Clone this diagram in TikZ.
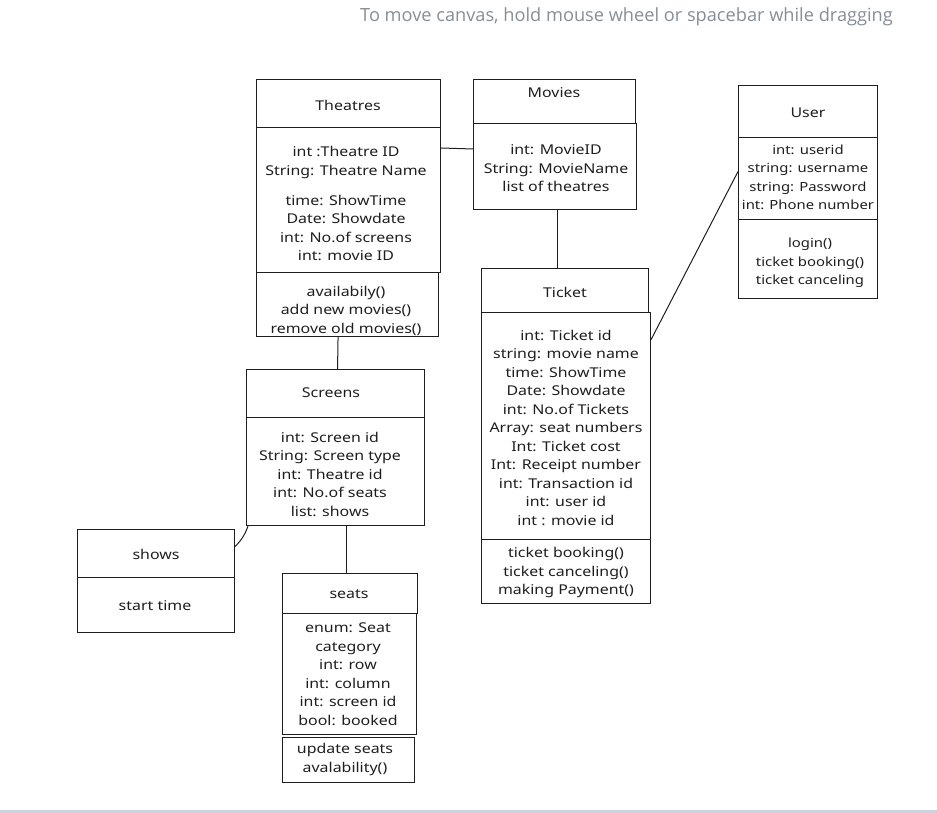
\documentclass[tikz,border=0pt]{standalone}
\usepackage{fontspec}
\setmainfont[FakeStretch=1.18]{Noto Sans}
\newfontfamily\hintfont{Open Sans}
\definecolor{ink}{HTML}{1E1E1E}
\definecolor{hint}{HTML}{868E96}
\definecolor{rule}{HTML}{C8D2E2}
\begin{document}
\begin{tikzpicture}[x=1pt,y=-1pt,
  box/.style={draw=ink,line width=1.1pt,inner sep=0pt,anchor=north west},
  txt/.style={text=ink,align=center,inner sep=0pt,font=\fontsize{13.5}{18.5}\selectfont},
  small/.style={font=\fontsize{12.6}{18.5}\selectfont},
  link/.style={draw=ink,line width=1pt}]
\useasboundingbox (0,0) rectangle (937,813);

% hint line at the top and the ruler at the bottom
\node[text=hint,anchor=east,inner sep=0pt,font=\hintfont\fontsize{18.2}{20}\selectfont] (hintline) at (893,17)
  {To move canvas, hold mouse wheel or spacebar while dragging};
\fill[rule] (0,809.5) rectangle (937,813);

% Theatres
\node[box,minimum width=184,minimum height=48] (th-h) at (256,79) {};
\node[box,minimum width=184,minimum height=145] (th-b) at (256,127) {};
\node[box,minimum width=182,minimum height=64] (th-m) at (256,272) {};
\node[txt] (th-t) at (348,105) {Theatres};
\node[txt] (th-a) at (346,203.5) {int :Theatre ID\\String: Theatre Name\\[11.5pt]time: ShowTime\\Date: Showdate\\int: No.of screens\\int: movie ID};
\node[txt] (th-o) at (346,310.5) {availabily()\\add new movies()\\remove old movies()};

% Movies
\node[box,minimum width=162,minimum height=44] (mv-h) at (473,79) {};
\node[box,minimum width=163,minimum height=86] (mv-b) at (473,123) {};
\node[txt] (mv-t) at (554,93) {Movies};
\node[txt] (mv-a) at (556,168.5) {int: MovieID\\String: MovieName\\list of theatres};

% User
\node[box,minimum width=139,minimum height=52] (us-h) at (738,85) {};
\node[box,minimum width=139,minimum height=82] (us-b) at (738,137) {};
\node[box,minimum width=139,minimum height=79] (us-m) at (738,219) {};
\node[txt] (us-t) at (808,113) {User};
\node[txt,small] (us-a) at (808,177.5) {int: userid\\string: username\\string: Password\\int: Phone number};
\node[txt,small] (us-o) at (810,263) {login()\\ticket booking()\\ticket canceling};

% Ticket
\node[box,minimum width=167,minimum height=44] (tk-h) at (481,268) {};
\node[box,minimum width=169,minimum height=227] (tk-b) at (481,312) {};
\node[box,minimum width=169,minimum height=64] (tk-m) at (481,539) {};
\node[txt] (tk-t) at (565,292) {Ticket};
\node[txt] (tk-a) at (566,427.5) {int: Ticket id\\string: movie name\\time: ShowTime\\Date: Showdate\\int: No.of Tickets\\Array: seat numbers\\Int: Ticket cost\\Int: Receipt number\\int: Transaction id\\int: user id\\int : movie id};
\node[txt] (tk-o) at (566,572.5) {ticket booking()\\ticket canceling()\\making Payment()};

% Screens
\node[box,minimum width=178,minimum height=48] (sc-h) at (246,369) {};
\node[box,minimum width=178,minimum height=108] (sc-b) at (246,417) {};
\node[txt] (sc-t) at (331,393) {Screens};
\node[txt] (sc-a) at (330,474) {int: Screen id\\String: Screen type\\int: Theatre id\\int: No.of seats\\list: shows};

% shows
\node[box,minimum width=157,minimum height=48] (sh-h) at (77,529) {};
\node[box,minimum width=157,minimum height=55] (sh-b) at (77,577) {};
\node[txt] (sh-t) at (156,554) {shows};
\node[txt] (sh-a) at (155,606) {start time};

% seats
\node[box,minimum width=135,minimum height=40] (se-h) at (282,573) {};
\node[box,minimum width=134,minimum height=121] (se-b) at (282,613) {};
\node[box,minimum width=132,minimum height=45] (se-m) at (282,737) {};
\node[txt] (se-t) at (349,594) {seats};
\node[txt] (se-a) at (348,674) {enum: Seat\\category\\int: row\\int: column\\int: screen id\\bool: booked};
\node[txt] (se-o) at (345,759.5) {update seats\\avalability()};

% associations
\draw[link] ([yshift=-21pt]th-b.north east) -- ([yshift=-26pt]mv-b.north west);
\draw[link] ([xshift=-9.5pt]th-m.south) -- ([xshift=2pt]sc-h.north);
\draw[link] ([xshift=2.5pt]mv-b.south) -- ([xshift=-7.5pt]tk-h.north);
\draw[link] ([xshift=11pt]sc-b.south) -- ([xshift=-3.5pt]se-h.north);
\draw[link] ([yshift=7pt]us-b.west) -- ([yshift=86.5pt]tk-b.east);
\draw[link] ([yshift=7pt]sh-h.east) to[bend right=12] ([xshift=2pt]sc-b.south west);
\end{tikzpicture}
\end{document}
